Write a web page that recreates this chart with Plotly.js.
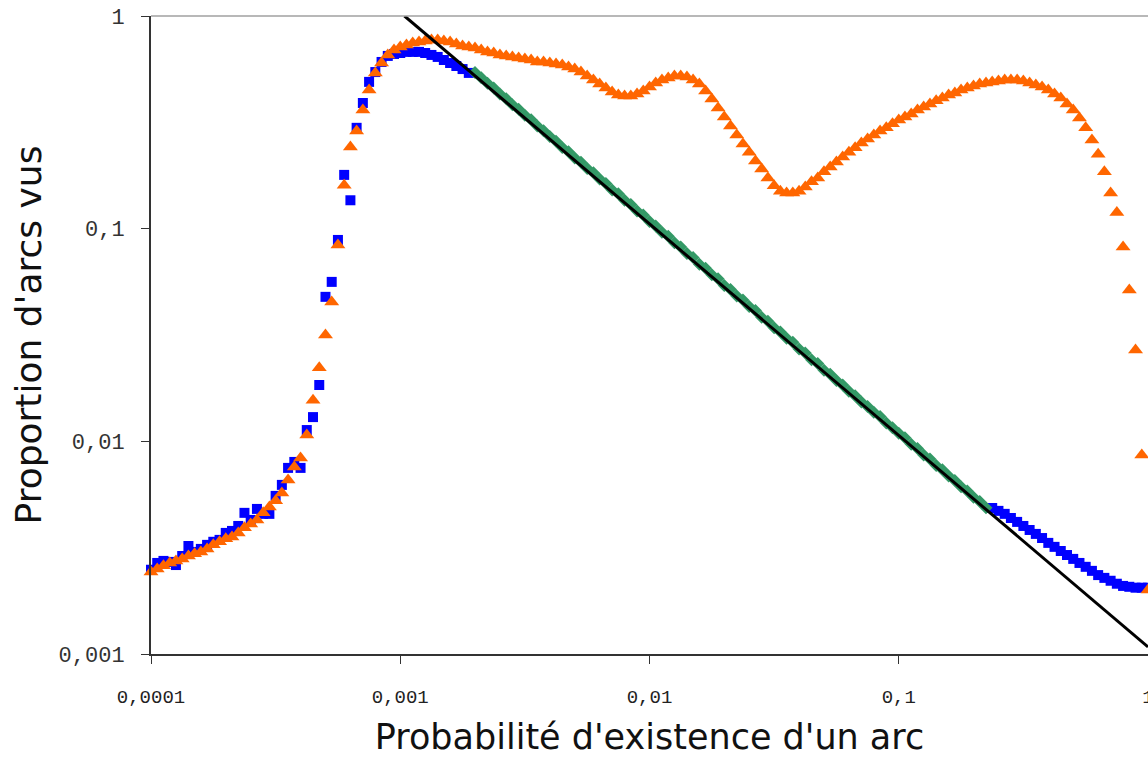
<!DOCTYPE html>
<html>
<head>
<meta charset="utf-8">
<script src="https://cdn.plot.ly/plotly-3.0.1.min.js"></script>
<style>html,body{margin:0;padding:0;background:#fff;}#chart{width:1148px;height:757px;}</style>
</head>
<body>
<div id="chart"></div>
<script>
// Probabilité d'existence d'un arc (x grid)
const probabilite = [
1.000e-4,1.059e-4,1.122e-4,1.189e-4,1.259e-4,1.334e-4,1.413e-4,1.496e-4,1.585e-4,1.679e-4,
1.778e-4,1.884e-4,1.995e-4,2.113e-4,2.239e-4,2.371e-4,2.512e-4,2.661e-4,2.818e-4,2.985e-4,
3.162e-4,3.350e-4,3.548e-4,3.758e-4,3.981e-4,4.217e-4,4.467e-4,4.732e-4,5.012e-4,5.309e-4,
5.623e-4,5.957e-4,6.310e-4,6.683e-4,7.079e-4,7.499e-4,7.943e-4,8.414e-4,8.913e-4,9.441e-4,
1.000e-3,1.059e-3,1.122e-3,1.189e-3,1.259e-3,1.334e-3,1.413e-3,1.496e-3,1.585e-3,1.679e-3,
1.778e-3,1.884e-3,1.995e-3,2.113e-3,2.239e-3,2.371e-3,2.512e-3,2.661e-3,2.818e-3,2.985e-3,
3.162e-3,3.350e-3,3.548e-3,3.758e-3,3.981e-3,4.217e-3,4.467e-3,4.732e-3,5.012e-3,5.309e-3,
5.623e-3,5.957e-3,6.310e-3,6.683e-3,7.079e-3,7.499e-3,7.943e-3,8.414e-3,8.913e-3,9.441e-3,
1.000e-2,1.059e-2,1.122e-2,1.189e-2,1.259e-2,1.334e-2,1.413e-2,1.496e-2,1.585e-2,1.679e-2,
1.778e-2,1.884e-2,1.995e-2,2.113e-2,2.239e-2,2.371e-2,2.512e-2,2.661e-2,2.818e-2,2.985e-2,
3.162e-2,3.350e-2,3.548e-2,3.758e-2,3.981e-2,4.217e-2,4.467e-2,4.732e-2,5.012e-2,5.309e-2,
5.623e-2,5.957e-2,6.310e-2,6.683e-2,7.079e-2,7.499e-2,7.943e-2,8.414e-2,8.913e-2,9.441e-2,
1.000e-1,1.059e-1,1.122e-1,1.189e-1,1.259e-1,1.334e-1,1.413e-1,1.496e-1,1.585e-1,1.679e-1,
1.778e-1,1.884e-1,1.995e-1,2.113e-1,2.239e-1,2.371e-1,2.512e-1,2.661e-1,2.818e-1,2.985e-1,
3.162e-1,3.350e-1,3.548e-1,3.758e-1,3.981e-1,4.217e-1,4.467e-1,4.732e-1,5.012e-1,5.309e-1,
5.623e-1,5.957e-1,6.310e-1,6.683e-1,7.079e-1,7.499e-1,7.943e-1,8.414e-1,8.913e-1,9.441e-1,
1.000
];

// Orange series (triangles), one value per x
const serieOrange = [
0.00243,0.00251,0.00260,0.00268,0.00274,0.00280,0.00289,0.00296,0.00302,0.00312,
0.00326,0.00337,0.00348,0.00355,0.00371,0.00392,0.00409,0.00427,0.00461,0.00491,
0.00525,0.00572,0.00658,0.00758,0.00835,0.0107,0.0156,0.0222,0.0316,0.0452,
0.0838,0.160,0.242,0.288,0.361,0.449,0.540,0.601,0.656,0.692,
0.715,0.731,0.747,0.755,0.763,0.771,0.771,0.763,0.755,0.739,
0.723,0.715,0.707,0.692,0.678,0.670,0.656,0.649,0.642,0.635,
0.628,0.621,0.608,0.608,0.601,0.595,0.588,0.576,0.563,0.545,
0.522,0.500,0.479,0.459,0.439,0.425,0.421,0.421,0.430,0.444,
0.464,0.484,0.500,0.511,0.522,0.522,0.517,0.500,0.479,0.444,
0.407,0.369,0.335,0.304,0.276,0.250,0.229,0.208,0.191,0.173,
0.159,0.150,0.147,0.147,0.150,0.157,0.166,0.173,0.185,0.195,
0.206,0.217,0.229,0.240,0.253,0.264,0.276,0.288,0.298,0.311,
0.324,0.335,0.346,0.361,0.373,0.386,0.399,0.412,0.425,0.435,
0.449,0.459,0.469,0.479,0.484,0.490,0.495,0.500,0.500,0.500,
0.495,0.484,0.474,0.464,0.449,0.430,0.412,0.386,0.361,0.331,
0.298,0.261,0.224,0.185,0.147,0.119,0.082,0.0515,0.0269,0.00863,
0.00200
];

// Blue series (squares): low part (first 52 x values) and high part (last 26 x values)
const serieBleuBas = [
0.00249,0.00268,0.00274,0.00271,0.00262,0.00289,0.00322,0.00302,0.00312,0.00326,
0.00337,0.00344,0.00371,0.00379,0.00400,0.00461,0.00427,0.00481,0.00456,0.00456,
0.00554,0.00624,0.00750,0.00800,0.00750,0.0113,0.0130,0.0184,0.0478,0.0562,
0.0885,0.179,0.136,0.298,0.390,0.490,0.545,0.608,0.649,0.663,
0.670,0.678,0.678,0.678,0.670,0.656,0.642,0.621,0.601,0.582,
0.563,0.540
];
const serieBleuHaut = [
0.00486,0.00471,0.00456,0.00436,0.00418,0.00400,0.00383,0.00367,0.00351,0.00333,
0.00319,0.00305,0.00292,0.00280,0.00268,0.00257,0.00246,0.00235,0.00228,0.00221,
0.00214,0.00209,0.00207,0.00205,0.00205,0.00205
];

// Green series (diamonds), x values 53rd..135th
const serieVerte = [
0.542,0.512,0.483,0.458,0.430,0.408,0.383,0.364,0.341,0.325,
0.304,0.289,0.271,0.258,0.241,0.230,0.215,0.205,0.192,0.183,
0.171,0.163,0.152,0.146,0.136,0.130,0.121,0.116,0.108,0.103,
0.0962,0.0920,0.0858,0.0820,0.0764,0.0731,0.0681,0.0652,0.0607,0.0582,
0.0541,0.0518,0.0482,0.0462,0.0430,0.0412,0.0383,0.0367,0.0342,0.0327,
0.0305,0.0292,0.0272,0.0260,0.0242,0.0232,0.0216,0.0207,0.0193,0.0184,
0.0172,0.0164,0.0153,0.0146,0.0137,0.0131,0.0122,0.0116,0.0109,0.0104,
0.00968,0.00925,0.00863,0.00825,0.00770,0.00735,0.00687,0.00655,0.00612,0.00584,
0.00546,0.00521,0.00487
];

// Power-law fit line endpoints
const ajustX = [0.00104, 1];
const ajustY = [1, 0.00108];

// Tick labels
const xTickVals = [0.0001, 0.001, 0.01, 0.1, 1];
const xTickText = ['0,0001', '0,001', '0,01', '0,1', '1'];
const yTickVals = [0.001, 0.01, 0.1, 1];
const yTickText = ['0,001', '0,01', '0,1', '1'];

const xBleuBas = probabilite.slice(0, serieBleuBas.length);
const xBleuHaut = probabilite.slice(probabilite.length - serieBleuHaut.length);
const xVerte = probabilite.slice(52, 52 + serieVerte.length);

const traces = [
  {x: xBleuBas, y: serieBleuBas, type: 'scatter', mode: 'markers', cliponaxis: false,
   marker: {symbol: 'square', size: 10, color: '#0000FF', line: {width: 0}}},
  {x: xBleuHaut, y: serieBleuHaut, type: 'scatter', mode: 'markers', cliponaxis: false,
   marker: {symbol: 'square', size: 10, color: '#0000FF', line: {width: 0}}},
  {x: xVerte, y: serieVerte, type: 'scatter', mode: 'markers', cliponaxis: false,
   marker: {symbol: 'diamond', size: 10, color: '#339966', line: {width: 0}}},
  {x: probabilite, y: serieOrange, type: 'scatter', mode: 'markers', cliponaxis: false,
   marker: {symbol: 'triangle-up', size: 13, color: '#FF6600', line: {width: 0}}},
  {x: ajustX, y: ajustY, type: 'scatter', mode: 'lines',
   line: {color: '#000000', width: 3}}
];

const layout = {
  width: 1148, height: 757,
  margin: {l: 151, r: 0, t: 16, b: 103, pad: 0},
  paper_bgcolor: '#ffffff', plot_bgcolor: '#ffffff',
  showlegend: false,
  xaxis: {
    type: 'log', range: [-4, 0], automargin: false,
    tickmode: 'array', tickvals: xTickVals, ticktext: xTickText,
    ticks: 'outside', ticklen: 8, tickwidth: 1, tickcolor: '#333333',
    showline: true, linecolor: '#333333', linewidth: 2,
    showgrid: false, zeroline: false,
    tickfont: {family: 'Liberation Mono, DejaVu Sans Mono, monospace', size: 19, color: '#222222'},
    ticklabelstandoff: 16, ticklabeloverflow: 'allow',
    title: {text: "Probabilité d'existence d'un arc", standoff: 44,
            font: {family: 'DejaVu Sans, Verdana, sans-serif', size: 35, color: '#111111'}}
  },
  yaxis: {
    type: 'log', range: [-3, 0], automargin: false,
    tickmode: 'array', tickvals: yTickVals, ticktext: yTickText,
    ticks: 'outside', ticklen: 8, tickwidth: 1, tickcolor: '#333333',
    showline: true, linecolor: '#333333', linewidth: 2,
    showgrid: false, zeroline: false,
    tickfont: {family: 'Liberation Mono, DejaVu Sans Mono, monospace', size: 22, color: '#333333'},
    ticklabelstandoff: 12,
    title: {text: "Proportion d'arcs vus", standoff: 6,
            font: {family: 'DejaVu Sans, Verdana, sans-serif', size: 36, color: '#111111'}}
  },
  shapes: [
    {type: 'line', xref: 'paper', yref: 'paper', x0: 0, x1: 1, y0: 1, y1: 1,
     line: {color: '#a0a0a0', width: 1.5}}
  ]
};

Plotly.newPlot('chart', traces, layout, {staticPlot: true, displayModeBar: false});
</script>
</body>
</html>
